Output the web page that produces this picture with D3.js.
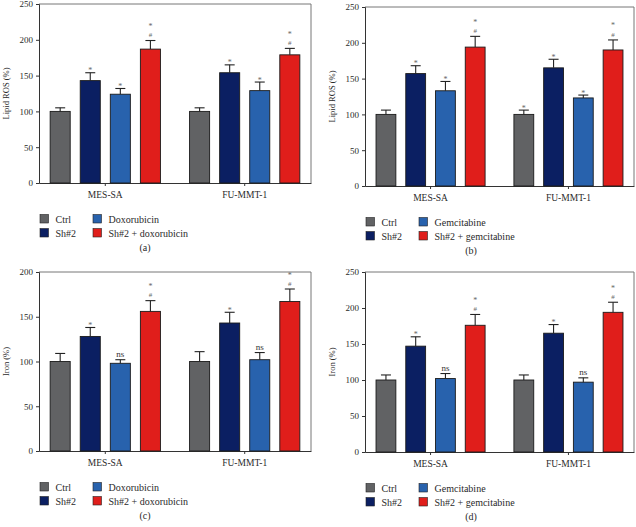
<!DOCTYPE html>
<html>
<head>
<meta charset="utf-8">
<script src="https://cdn.jsdelivr.net/npm/d3@7"></script>
<style>
  html, body { margin: 0; padding: 0; background: #fff; }
  svg { display: block; }
  text { font-family: "Liberation Serif", "Times New Roman", serif; fill: #2a2a2a; }
</style>
</head>
<body>
<svg id="chart" width="636" height="527"></svg>
<script>
// ---------- DATA ----------
const groups = ["MES-SA", "FU-MMT-1"];
const seriesDox = ["Ctrl", "Sh#2", "Doxorubicin", "Sh#2 + doxorubicin"];
const seriesGem = ["Ctrl", "Sh#2", "Gemcitabine", "Sh#2 + gemcitabine"];
const seriesColors = ["#616264", "#0b1f62", "#2862ad", "#e01e1b"];

// Panel (a): Lipid ROS, doxorubicin
const aMeans = [[100, 143, 124, 187], [100, 154, 129, 179]];
const aErrors = [[5, 11, 8, 12], [5, 11, 12, 9]];
const aSig = [["", "*", "*", "*#"], ["", "*", "*", "*#"]];
// Panel (b): Lipid ROS, gemcitabine
const bMeans = [[100, 157, 133, 194], [100, 165, 123, 190]];
const bErrors = [[6, 11, 13, 15], [6, 12, 4, 14]];
const bSig = [["", "*", "*", "*#"], ["*", "*", "*", "*#"]];
// Panel (c): Iron, doxorubicin
const cMeans = [[100, 128, 98, 156], [100, 143, 102, 167]];
const cErrors = [[9, 10, 4, 12], [11, 12, 8, 14]];
const cSig = [["", "*", "ns", "*#"], ["", "*", "ns", "*#"]];
// Panel (d): Iron, gemcitabine
const dMeans = [[100, 147, 102, 176], [100, 165, 97, 194]];
const dErrors = [[7, 13, 7, 15], [7, 12, 6, 14]];
const dSig = [["", "*", "ns", "*#"], ["", "*", "ns", "*#"]];

const yTicksROS = [0, 50, 100, 150, 200, 250];
const yTicksIronC = [0, 50, 100, 150, 200];
const yTicksIronD = [0, 50, 100, 150, 200, 250];

// ---------- DRAW ----------
const svg = d3.select("#chart");

function drawPanel(p) {
  const g = svg.append("g");
  const x0 = p.box[0], x1 = p.box[1], yT = p.box[2], yB = p.box[3];
  const yMax = d3.max(p.ticks);
  const y = d3.scaleLinear().domain([0, yMax]).range([yB, yT]);
  const xg = d3.scaleBand().domain(groups).range([x0, x1]).paddingInner(0.209).paddingOuter(0.08);
  const xs = d3.scaleBand().domain(d3.range(4)).range([0, xg.bandwidth()]).paddingInner(1/3).paddingOuter(0);

  // frame (top & right)
  g.append("path")
    .attr("d", `M${x0},${yT}H${x1}V${yB}`)
    .attr("fill", "none").attr("stroke", "#777").attr("stroke-width", 1);

  // y axis
  const ya = g.append("g").attr("transform", `translate(${x0},0)`)
    .call(d3.axisLeft(y).tickValues(p.ticks).tickSize(3).tickPadding(3).tickFormat(d3.format("d")));
  ya.select(".domain").attr("stroke", "#333");
  ya.selectAll(".tick line").attr("stroke", "#333");
  ya.selectAll("text").style("font-size", "9px").style("fill", "#2a2a2a")
    .style("font-family", "'Liberation Serif', 'Times New Roman', serif");

  // x axis
  const xa = g.append("g").attr("transform", `translate(0,${yB})`)
    .call(d3.axisBottom(xg).tickSize(3).tickPadding(5).tickSizeOuter(0));
  xa.select(".domain").attr("stroke", "#333");
  xa.selectAll(".tick line").attr("stroke", "#333");
  xa.selectAll("text").style("font-size", "9.5px").style("fill", "#2a2a2a")
    .style("font-family", "'Liberation Serif', 'Times New Roman', serif");

  // y title
  g.append("text")
    .attr("transform", `translate(${x0 - 30},${(yT + yB) / 2}) rotate(-90)`)
    .attr("text-anchor", "middle")
    .style("font-size", "8.5px")
    .text(p.ytitle);

  // bars
  groups.forEach((grp, gi) => {
    const gx = xg(grp);
    p.means[gi].forEach((v, si) => {
      const bx = gx + xs(si);
      const bw = xs.bandwidth();
      const e = p.errors[gi][si];
      g.append("rect")
        .attr("x", bx).attr("y", y(v))
        .attr("width", bw).attr("height", y(0) - y(v))
        .attr("fill", seriesColors[si])
        .attr("stroke", "#1a1a1a").attr("stroke-width", 0.9);
      const cx = bx + bw / 2;
      g.append("line")
        .attr("x1", cx).attr("x2", cx).attr("y1", y(v)).attr("y2", y(v + e))
        .attr("stroke", "#222").attr("stroke-width", 1.1);
      g.append("line")
        .attr("x1", cx - 5).attr("x2", cx + 5).attr("y1", y(v + e)).attr("y2", y(v + e))
        .attr("stroke", "#222").attr("stroke-width", 1.1);
      const s = p.sig[gi][si];
      const topY = y(v + e);
      if (s === "*") {
        g.append("text").attr("x", cx).attr("y", topY + 0.5).attr("text-anchor", "middle")
          .style("font-size", "8px").style("fill", "#666").text("*");
      } else if (s === "*#") {
        g.append("text").attr("x", cx).attr("y", topY - 3.3).attr("text-anchor", "middle")
          .style("font-size", "7px").style("fill", "#666").text("#");
        g.append("text").attr("x", cx).attr("y", topY - 11.5).attr("text-anchor", "middle")
          .style("font-size", "8px").style("fill", "#666").text("*");
      } else if (s === "ns") {
        g.append("text").attr("x", cx).attr("y", topY - 3).attr("text-anchor", "middle")
          .style("font-size", "9px").style("fill", "#333").text("ns");
      }
    });
  });

  // legend
  const lx = [x0 + 1, x0 + 54];
  const ly = [yB + 36, yB + 50];
  const order = [[0, 0, 0], [1, 0, 1], [2, 1, 0], [3, 1, 1]]; // series, col, row
  order.forEach(([si, col, row]) => {
    g.append("rect")
      .attr("x", lx[col]).attr("y", ly[row] - 4.5)
      .attr("width", 8.5).attr("height", 8.5)
      .attr("fill", seriesColors[si]).attr("stroke", "#222").attr("stroke-width", 0.6);
    g.append("text")
      .attr("x", lx[col] + 15.5).attr("y", ly[row] + 3.5)
      .style("font-size", "10px")
      .text(p.series[si]);
  });

  // caption
  g.append("text")
    .attr("x", x0 + 106).attr("y", yB + 68)
    .attr("text-anchor", "middle")
    .style("font-size", "10px")
    .text(p.caption);
}

drawPanel({ box: [39, 311, 4, 183], ticks: yTicksROS, means: aMeans, errors: aErrors, sig: aSig,
  series: seriesDox, ytitle: "Lipid ROS (%)", caption: "(a)" });
drawPanel({ box: [365, 634, 7, 186], ticks: yTicksROS, means: bMeans, errors: bErrors, sig: bSig,
  series: seriesGem, ytitle: "Lipid ROS (%)", caption: "(b)" });
drawPanel({ box: [39, 311, 272, 451], ticks: yTicksIronC, means: cMeans, errors: cErrors, sig: cSig,
  series: seriesDox, ytitle: "Iron (%)", caption: "(c)" });
drawPanel({ box: [365, 634, 272, 452], ticks: yTicksIronD, means: dMeans, errors: dErrors, sig: dSig,
  series: seriesGem, ytitle: "Iron (%)", caption: "(d)" });
</script>
</body>
</html>
